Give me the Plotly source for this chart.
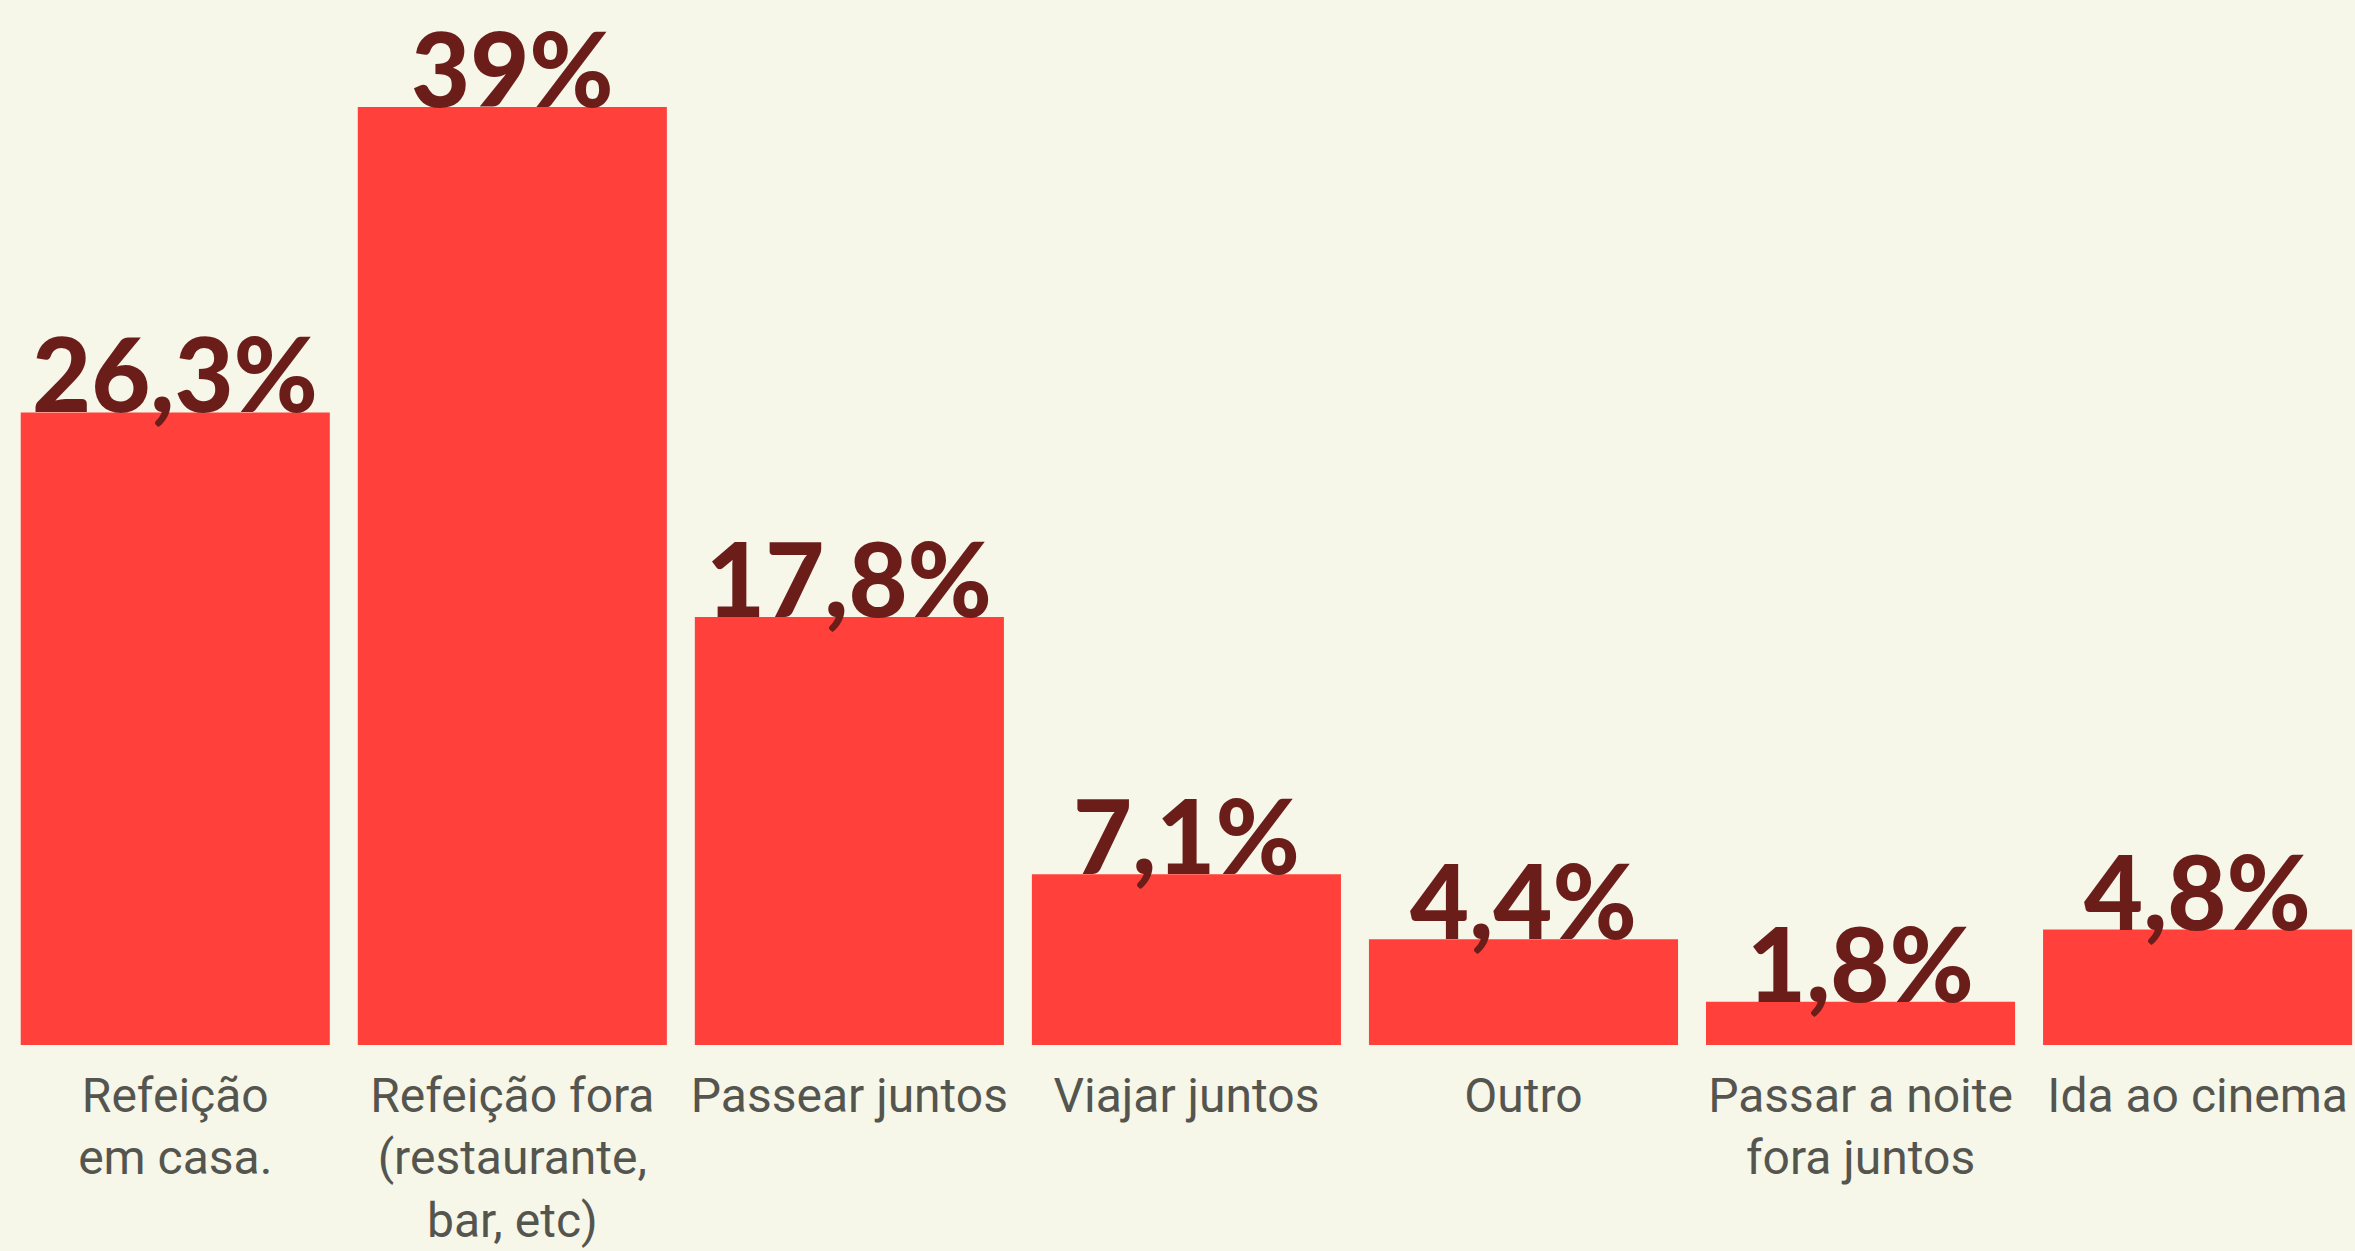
import plotly.graph_objects as go

# survey answers (pt-BR)
categories = [
    "Refeição<br>em casa.",
    "Refeição fora<br>(restaurante,<br>bar, etc)",
    "Passear juntos",
    "Viajar juntos",
    "Outro",
    "Passar a noite<br>fora juntos",
    "Ida ao cinema",
]
values = [26.3, 39, 17.8, 7.1, 4.4, 1.8, 4.8]
value_labels = ["26,3%", "39%", "17,8%", "7,1%", "4,4%", "1,8%", "4,8%"]

BG = "#F6F6E9"
BAR = "#FF403B"
LABEL = "#6B1D1A"

fig = go.Figure(go.Bar(
    x=list(range(len(categories))),
    y=values,
    marker=dict(color=BAR, line_width=0),
    hoverinfo="skip",
))

# value labels sit on top of bars, slightly overlapping
for i, (v, t) in enumerate(zip(values, value_labels)):
    fig.add_annotation(
        x=i, y=v, text=t, showarrow=False,
        xanchor="center", yanchor="bottom", yshift=-24,
        font=dict(family="Lato", size=102, color=LABEL, weight=900),
    )

fig.update_layout(
    width=2355, height=1251,
    paper_bgcolor=BG, plot_bgcolor=BG,
    margin=dict(l=0, r=0, t=0, b=206),
    bargap=0.083,
    showlegend=False,
    xaxis=dict(
        range=[-0.52, 6.467],
        tickmode="array",
        tickvals=list(range(len(categories))),
        ticktext=categories,
        tickfont=dict(family="Roboto", size=48, color="#55554F"),
        ticks="", ticklabelstandoff=18,
        automargin=False,
        showgrid=False, zeroline=False, showline=False,
    ),
    yaxis=dict(
        range=[0, 43.45],
        visible=False, showgrid=False, zeroline=False, automargin=False,
    ),
)

# drop the browser's default page margin so the figure fills the window
fig.write_html("out.html", config={"displayModeBar": False},
               post_script="document.body.style.margin='0';")
